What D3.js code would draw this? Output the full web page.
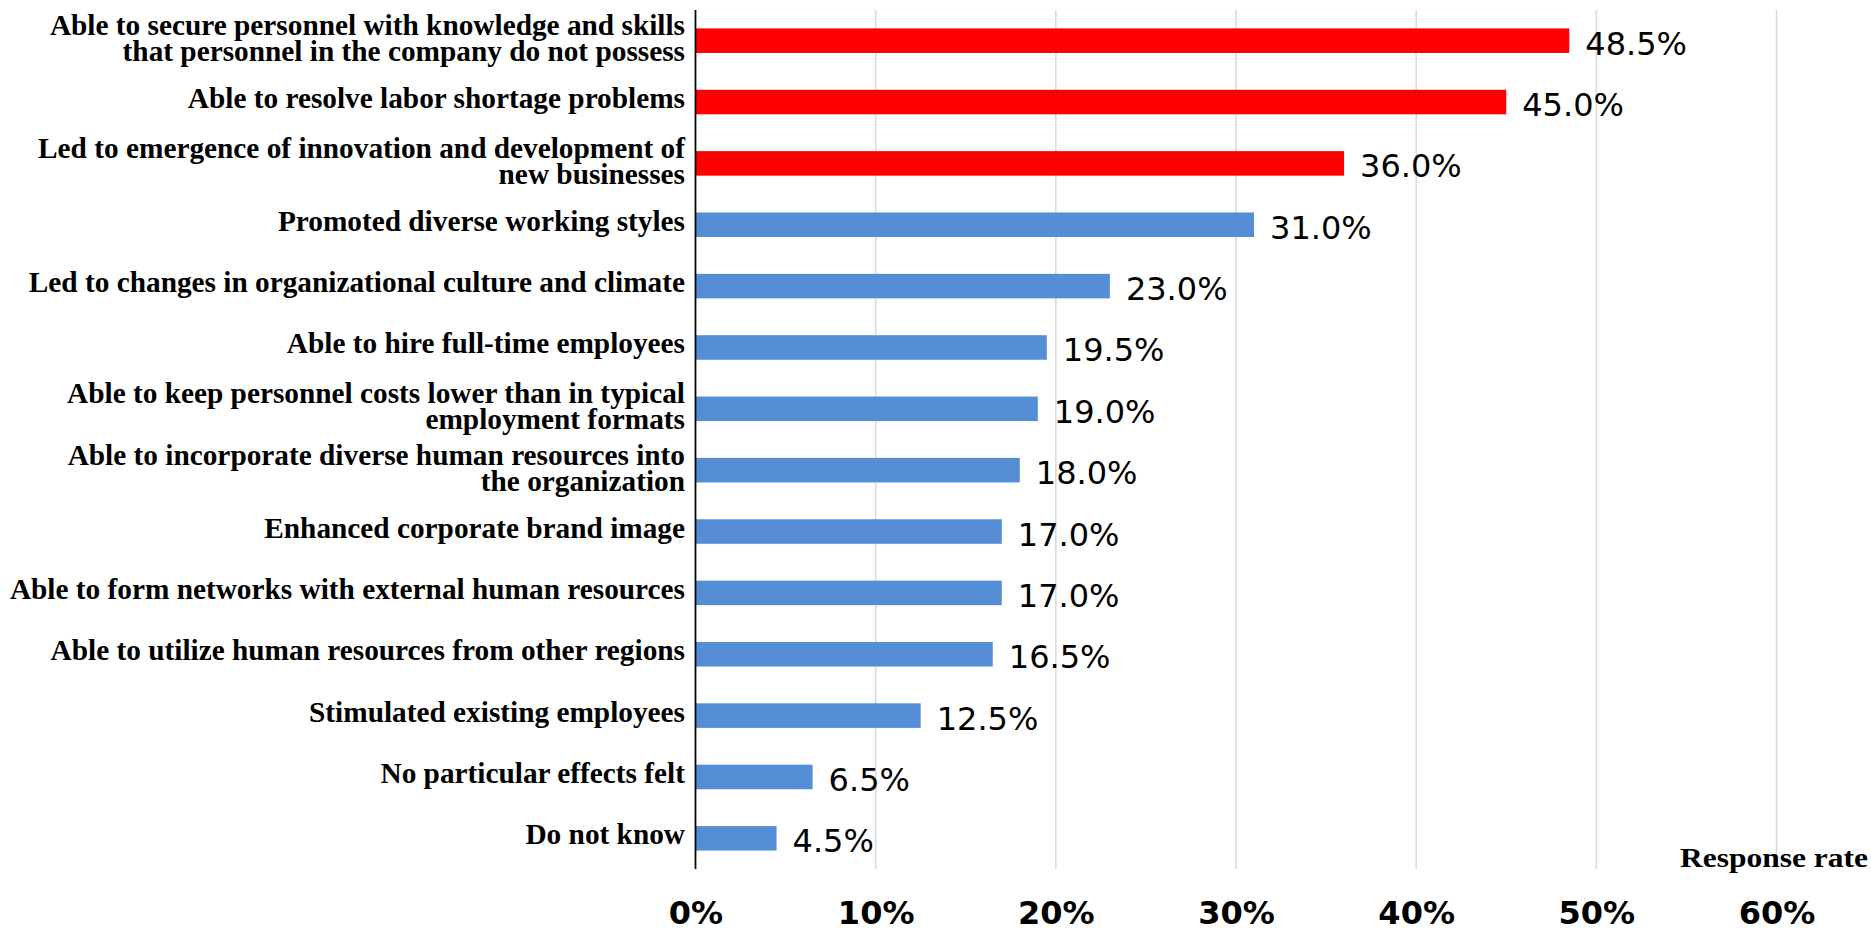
<!DOCTYPE html>
<html>
<head>
<meta charset="utf-8">
<script src="https://cdn.jsdelivr.net/npm/d3@7"></script>
<style>
  html, body { margin: 0; padding: 0; background: #fff; overflow: hidden; }
  svg { display: block; }
</style>
</head>
<body>
<div id="chart"></div>
<script>
// Effects reported by companies (response rate, %)
const categories = [
  "Able to secure personnel with knowledge and skills\nthat personnel in the company do not possess",
  "Able to resolve labor shortage problems",
  "Led to emergence of innovation and development of\nnew businesses",
  "Promoted diverse working styles",
  "Led to changes in organizational culture and climate",
  "Able to hire full-time employees",
  "Able to keep personnel costs lower than in typical\nemployment formats",
  "Able to incorporate diverse human resources into\nthe organization",
  "Enhanced corporate brand image",
  "Able to form networks with external human resources",
  "Able to utilize human resources from other regions",
  "Stimulated existing employees",
  "No particular effects felt",
  "Do not know"
];
const values = [48.5, 45.0, 36.0, 31.0, 23.0, 19.5, 19.0, 18.0, 17.0, 17.0, 16.5, 12.5, 6.5, 4.5];
const highlighted = [true, true, true, false, false, false, false, false, false, false, false, false, false, false];
const tickValues = [0, 10, 20, 30, 40, 50, 60];
const axisTitle = "Response rate";

const W = 1871, H = 928;
const plot = { left: 695.5, right: 1776.5, top: 10, bottom: 869 };

const svg = d3.select("#chart").append("svg")
  .attr("width", W).attr("height", H);

const x = d3.scaleLinear().domain([0, 60]).range([plot.left, plot.right]);
const y = d3.scaleBand().domain(d3.range(categories.length))
  .range([plot.top, plot.bottom]).paddingInner(0.6).paddingOuter(0.3);

// vertical gridlines
svg.append("g")
  .selectAll("line").data(tickValues.filter(d => d > 0)).join("line")
  .attr("x1", d => x(d)).attr("x2", d => x(d))
  .attr("y1", plot.top).attr("y2", plot.bottom)
  .attr("stroke", "#d9d9d9").attr("stroke-width", 1.5);

// x-axis tick labels (below the plot)
const xAxis = d3.axisBottom(x).tickValues(tickValues).tickFormat(d => d + "%").tickSize(0);
const gx = svg.append("g").attr("transform", `translate(0, ${plot.bottom})`).call(xAxis);
gx.select(".domain").remove();
gx.selectAll("text")
  .attr("y", 55).attr("dy", 0)
  .style("font-family", "'DejaVu Sans', Verdana, sans-serif")
  .style("font-weight", "bold").style("font-size", "32px").attr("fill", "#000");

// bars
svg.append("g")
  .selectAll("rect").data(values).join("rect")
  .attr("x", x(0))
  .attr("y", (d, i) => y(i))
  .attr("width", d => x(d) - x(0))
  .attr("height", y.bandwidth())
  .attr("fill", (d, i) => highlighted[i] ? "#ff0000" : "#558ed5");

// value labels
svg.append("g")
  .selectAll("text").data(values).join("text")
  .attr("x", d => x(d) + 16)
  .attr("y", (d, i) => y(i) + y.bandwidth() / 2 + 14)
  .style("font-family", "'DejaVu Sans', Verdana, sans-serif")
  .style("font-size", "32px").attr("fill", "#000")
  .text(d => d.toFixed(1) + "%");

// y axis line
svg.append("line")
  .attr("x1", plot.left).attr("x2", plot.left)
  .attr("y1", plot.top).attr("y2", plot.bottom)
  .attr("stroke", "#000").attr("stroke-width", 1.75);

// category labels (right aligned against the axis)
const catG = svg.append("g");
categories.forEach((c, i) => {
  const lines = c.split("\n");
  const cy = y(i) + y.bandwidth() / 2;
  const t = catG.append("text")
    .attr("text-anchor", "end")
    .style("font-family", "'Liberation Serif', 'Times New Roman', serif")
    .style("font-weight", "bold").style("font-size", "29.3px").attr("fill", "#000");
  const first = lines.length === 1 ? cy + 6 : cy - 5.5;
  lines.forEach((ln, k) => {
    t.append("tspan").attr("x", 685).attr("y", first + k * 26).text(ln);
  });
});

// axis title
svg.append("text")
  .attr("x", 1868).attr("y", 867)
  .attr("text-anchor", "end")
  .attr("textLength", 188).attr("lengthAdjust", "spacingAndGlyphs")
  .style("font-family", "'Liberation Serif', 'Times New Roman', serif")
  .style("font-weight", "bold").style("font-size", "28px").attr("fill", "#000")
  .text(axisTitle);
</script>
</body>
</html>
